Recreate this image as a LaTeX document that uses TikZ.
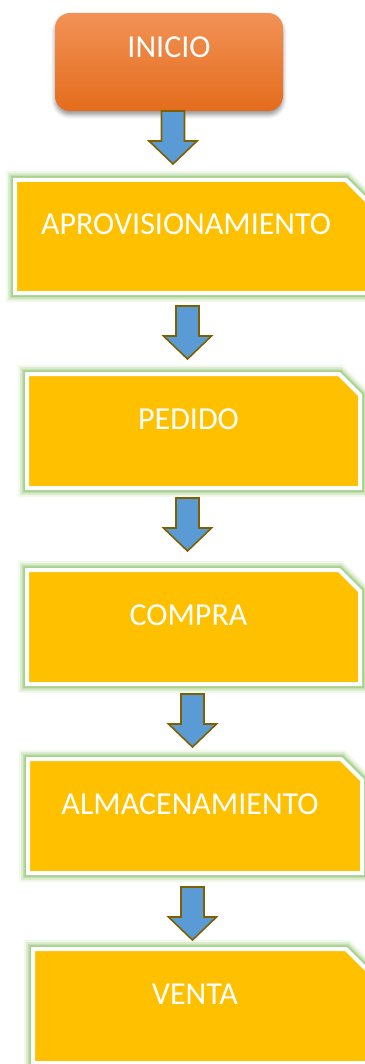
\documentclass[tikz,border=0pt]{standalone}
\usepackage{fontspec}
\setmainfont{Carlito}
\usetikzlibrary{shapes.misc,shadows.blur}

\definecolor{boxyellow}{HTML}{FFC000}
\definecolor{glowgreen}{HTML}{A9D18E}
\definecolor{glowmid}{HTML}{C4DFB2}
\definecolor{glowlight}{HTML}{DDEDD2}
\definecolor{glowpale}{HTML}{F1F8EC}
\definecolor{arrowblue}{HTML}{5B9BD5}
\definecolor{arrowline}{HTML}{7F6000}
\definecolor{starttop}{HTML}{F29256}
\definecolor{startbottom}{HTML}{E46C1C}

\tikzset{
  stepbox/.style={chamfered rectangle, chamfered rectangle corners=north east,
    chamfered rectangle xsep=10.5pt, chamfered rectangle ysep=10.5pt,
    fill=boxyellow, draw=white, line width=4pt, inner sep=0pt,
    minimum width=333pt, minimum height=114pt,
    text=white, font=\fontsize{32}{38}\selectfont,
    text height=20pt, text depth=24pt,
    execute at begin node={\hspace*{-10pt}},
    preaction={draw=glowpale, line width=18pt},
    preaction={draw=glowlight, line width=14pt},
    preaction={draw=glowmid, line width=10.5pt},
    preaction={draw=glowgreen, line width=7.5pt}},
  startbox/.style={rectangle, rounded corners=15pt, inner sep=0pt,
    minimum width=228pt, minimum height=98pt,
    top color=starttop, bottom color=startbottom,
    blur shadow={shadow xshift=0pt, shadow yshift=-4pt, shadow blur radius=4pt},
    text=white, font=\fontsize{32}{38}\selectfont,
    text height=20pt, text depth=29pt},
  blockarrow/.style={fill=arrowblue, draw=arrowline, line width=1.6pt, line join=miter},
  downarrow/.pic={
    \draw[blockarrow] (-11.5,0) -- (11.5,0) -- (11.5,30) -- (24,30)
      -- (0,53) -- (-24,30) -- (-11.5,30) -- cycle;}
}

\begin{document}
\begin{tikzpicture}[x=1pt,y=-1pt]
  \useasboundingbox (0,0) rectangle (364,1064);

  % pasos
  \node[startbox] (inicio) at (169,62) {INICIO};
  \node[stepbox, minimum width=352pt, minimum height=113pt] (aprov) at (191,236.5) {APROVISIONAMIENTO};
  \node[stepbox] (pedido) at (193.5,431) {PEDIDO};
  \node[stepbox] (compra) at (193.5,627) {COMPRA};
  \node[stepbox, minimum width=334pt] (almacen) at (195,816) {ALMACENAMIENTO};
  \node[stepbox, minimum width=334pt] (venta) at (200,1006) {VENTA};

  % flechas
  \pic (a1) at (173,111) {downarrow};
  \pic (a2) at (187.5,306) {downarrow};
  \pic (a3) at (187.5,498) {downarrow};
  \pic (a4) at (192.5,694) {downarrow};
  \pic (a5) at (192.5,887) {downarrow};
\end{tikzpicture}
\end{document}
